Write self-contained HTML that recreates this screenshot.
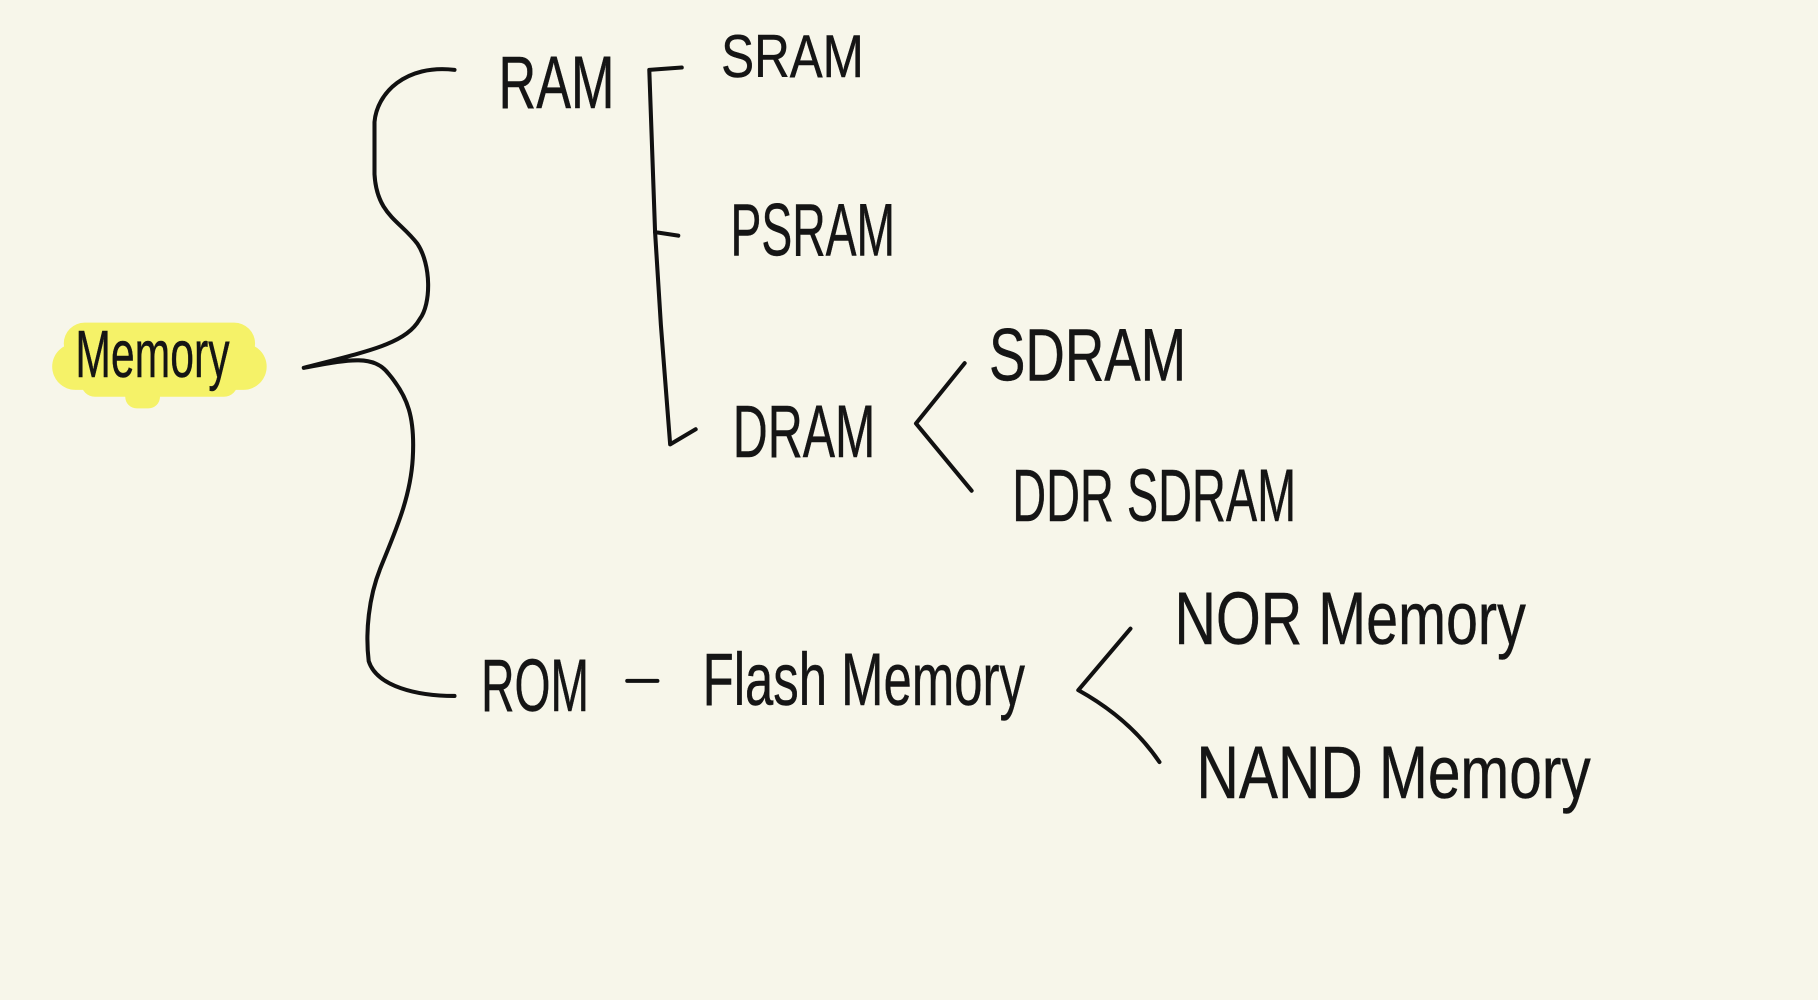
<!DOCTYPE html>
<html><head><meta charset="utf-8"><style>
html,body{margin:0;padding:0;background:#f7f6ea;}
svg{display:block;}
text{font-family:"Liberation Sans",sans-serif;fill:#151515;}
</style></head><body>
<svg width="1818" height="1000" viewBox="0 0 1568 862" xmlns="http://www.w3.org/2000/svg">
<rect width="1568" height="862" fill="#f7f6ea"/>
<g fill="#f5f25a" opacity="0.9">
<rect x="55" y="278" width="165" height="36" rx="18"/>
<rect x="45" y="296" width="185" height="40" rx="20"/>
<rect x="70" y="318" width="135" height="24" rx="12"/>
<rect x="108" y="330" width="30" height="22" rx="10"/>
</g>
<g fill="none" stroke="#111" stroke-width="3.5" stroke-linecap="round" stroke-linejoin="round">
<path d="M392,60 C350,55 325,80 323,105 L323,150 C325,185 345,190 360,210 C372,228 372,262 362,275 C350,296 320,302 262,317 C300,310 322,305 335,322 C352,342 358,360 356,395 C354,430 340,460 328,490 C318,515 315,545 318,570 C325,592 360,600 392,600"/>
<path d="M588,58 L560,60 L565,200 L585,203"/>
<path d="M565,200 L570,280 L578,383 L600,370"/>
<path d="M832,313 L790,365 L838,423"/>
<path d="M975,542 L930,595 Q975,620 1000,657"/>
<path d="M541,587 L567,587"/>
</g>
<g font-size="64" stroke="#151515" stroke-width="0.4">
<text x="430" y="93" textLength="100" lengthAdjust="spacingAndGlyphs">RAM</text>
<text x="622" y="66" font-size="52" textLength="123" lengthAdjust="spacingAndGlyphs">SRAM</text>
<text x="630" y="220" textLength="142" lengthAdjust="spacingAndGlyphs">PSRAM</text>
<text x="632" y="394" textLength="123" lengthAdjust="spacingAndGlyphs">DRAM</text>
<text x="853" y="328" textLength="170" lengthAdjust="spacingAndGlyphs">SDRAM</text>
<text x="873" y="449" textLength="245" lengthAdjust="spacingAndGlyphs">DDR SDRAM</text>
<text x="415" y="613" textLength="93" lengthAdjust="spacingAndGlyphs">ROM</text>
<text x="606" y="608" textLength="278" lengthAdjust="spacingAndGlyphs">Flash Memory</text>
<text x="1013" y="555" textLength="303" lengthAdjust="spacingAndGlyphs">NOR Memory</text>
<text x="1032" y="688" textLength="340" lengthAdjust="spacingAndGlyphs">NAND Memory</text>
<text x="65" y="325" font-size="58" textLength="133" lengthAdjust="spacingAndGlyphs">Memory</text>
</g>
</svg>
</body></html>
